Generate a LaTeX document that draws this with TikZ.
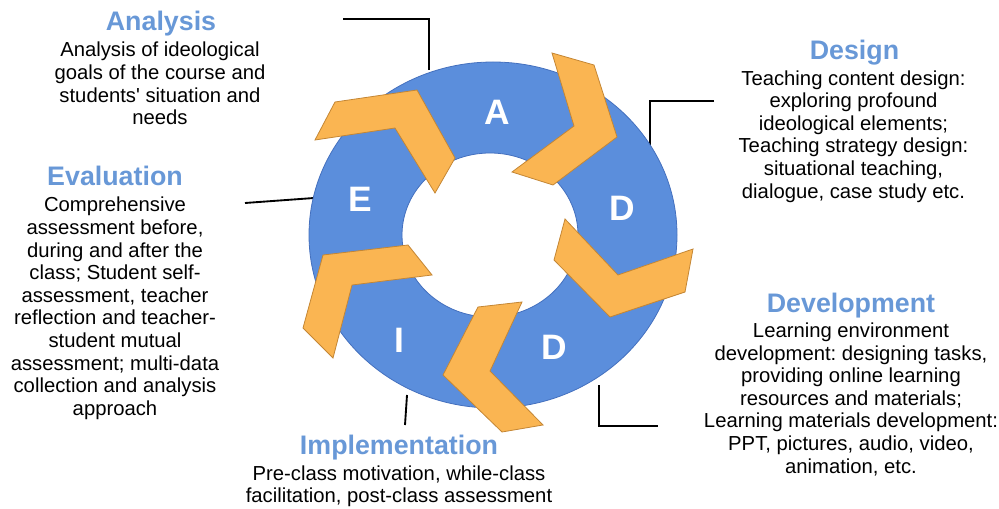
\documentclass[tikz,border=0pt]{standalone}
\usepackage{fontspec}
\setmainfont{Liberation Sans}
\frenchspacing
\definecolor{ringblue}{RGB}{91,142,220}
\definecolor{ringedge}{RGB}{68,112,190}
\definecolor{chevfill}{RGB}{250,181,82}
\definecolor{chevedge}{RGB}{196,134,52}
\definecolor{titleblue}{RGB}{104,152,215}
\begin{document}
\begin{tikzpicture}[x=0.75pt,y=-0.75pt,inner sep=0pt,outer sep=0pt,
title/.style={font=\fontsize{20.1}{22}\selectfont\bfseries,text=titleblue,anchor=base},
body/.style={font=\fontsize{15.2}{16.95}\selectfont,align=center,anchor=north},
letter/.style={font=\fontsize{26.5}{30}\selectfont\bfseries,text=white},
chevron/.style={fill=chevfill,draw=chevedge,line width=0.6pt,line join=miter},
leader/.style={line width=1.4pt}]
\useasboundingbox (0,0) rectangle (999,509);
% leader lines
\coordinate (anaend) at (343,19);
\coordinate (anaring) at (429,70);
\coordinate (desend) at (714,101);
\coordinate (desring) at (650,146);
\coordinate (evaend) at (245,203);
\coordinate (evaring) at (314,198);
\coordinate (impring) at (407,395);
\coordinate (impend) at (405,425);
\coordinate (devring) at (599,385);
\coordinate (devend) at (658,426);
\draw[leader] (anaend) -| (anaring);
\draw[leader] (desend) -| (desring);
\draw[leader] (evaend) -- (evaring);
\draw[leader] (impring) -- (impend);
\draw[leader] (devring) |- (devend);
% ring
\draw[fill=ringblue,draw=ringedge,line width=0.6pt,even odd rule] (493,235) ellipse [x radius=184,y radius=173] (490,235) ellipse [x radius=88,y radius=82];
\draw (497,112) node[letter] (A) {A};
\draw (622,208) node[letter] (D1) {D};
\draw (554,347) node[letter] (D2) {D};
\draw (399,340) node[letter] (I) {I};
\draw (360,199) node[letter] (E) {E};
% chevrons
\draw[chevron] (552,53) -- (594,65) -- (617,137) -- (553,185) -- (512,172) -- (574,126) -- cycle;
\draw[chevron] (565,219) -- (554,260) -- (610,317) -- (685,292) -- (693,249) -- (618,275) -- cycle;
\draw[chevron] (478,307) -- (522,302) -- (490,371) -- (543,425) -- (502,432) -- (443,375) -- cycle;
\draw[chevron] (323,255) -- (408,245) -- (432,275) -- (352,285) -- (333,358) -- (303,328) -- cycle;
\draw[chevron] (335,102) -- (417,90) -- (455,158) -- (435,193) -- (395,128) -- (315,140) -- cycle;
% texts
\draw (161,31) node[title] (anatitle) {Analysis};
\draw (160,42.2) node[body] (anatext) {Analysis of ideological\\goals of the course and\\students\textquotesingle{} situation and\\needs};
\draw (854.5,59.3) node[title] (destitle) {Design};
\draw (853.5,70.5) node[body] (destext) {Teaching content design:\\exploring profound\\ideological elements;\\Teaching strategy design:\\situational teaching,\\dialogue, case study etc.};
\draw (115,186) node[title] (evatitle) {Evaluation};
\draw (115,197.2) node[body] (evatext) {Comprehensive\\assessment before,\\during and after the\\class; Student self-\\assessment, teacher\\reflection and teacher-\\student mutual\\assessment; multi-data\\collection and analysis\\approach};
\draw (851,312.3) node[title] (devtitle) {Development};
\draw (851,322.8) node[body] (devtext) {Learning environment\\development: designing tasks,\\providing online learning\\resources and materials;\\Learning materials development:\\PPT, pictures, audio, video,\\animation, etc.};
\draw (399,454) node[title] (imptitle) {Implementation};
\draw (399,465.5) node[body] (imptext) {Pre-class motivation, while-class\\facilitation, post-class assessment};
\end{tikzpicture}
\end{document}
